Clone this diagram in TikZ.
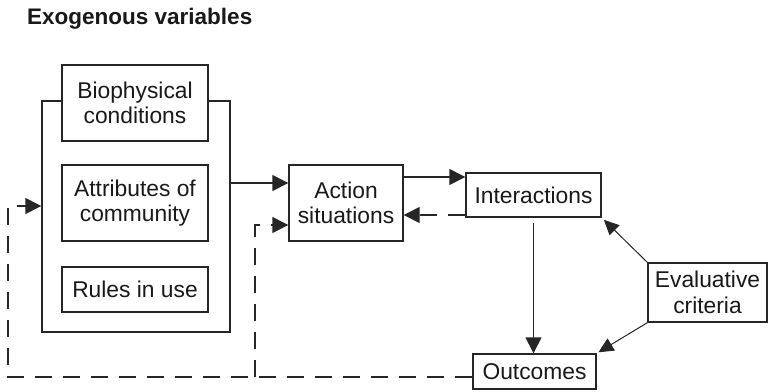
\documentclass[tikz,border=0pt]{standalone}
\usepackage{fontspec}
\setmainfont{Liberation Sans}
\usetikzlibrary{arrows.meta,calc}
\begin{document}
\begin{tikzpicture}[x=1pt,y=-1pt,
  box/.style={draw=black!85,line width=1.4pt,fill=white,inner sep=0pt,align=center,
    font=\fontsize{22.8}{25.5}\selectfont,text=black!90},
  conn/.style={draw=black!85,line width=1.4pt,-{Triangle[length=16pt,width=16pt]}},
  thin/.style={draw=black!85,line width=1pt,-{Triangle[length=15pt,width=14pt]}},
  dsh/.style={conn,dash pattern=on 17pt off 11pt}]
\useasboundingbox (0,0) rectangle (768,391);
\node[anchor=base west,inner sep=0pt,font=\bfseries\fontsize{22.5}{26}\selectfont,text=black!90] (title) at (27,24) {Exogenous variables};
\node[box,minimum width=188pt,minimum height=231pt] (outer) at (136,216.5) {};
\node[box,minimum width=146pt,minimum height=76pt] (bio) at (135,103) {Biophysical\\conditions};
\node[box,minimum width=146pt,minimum height=76pt] (attr) at (135,203) {Attributes of\\community};
\node[box,minimum width=146pt,minimum height=45pt] (rules) at (135,289.5) {Rules in use};
\node[box,minimum width=114pt,minimum height=76pt] (action) at (346,203) {Action\\situations};
\node[box,minimum width=135pt,minimum height=44pt] (inter) at (533.5,195) {Interactions};
\node[box,minimum width=123pt,minimum height=35pt] (outc) at (534.5,371.5) {Outcomes};
\node[box,minimum width=119pt,minimum height=59pt] (eval) at (707.5,292.5) {Evaluative\\criteria};
% solid connectors
\coordinate (a1) at ([yshift=20pt]action.west);
\draw[conn] (outer.east |- a1) -- (a1);
\coordinate (i1) at ([yshift=18pt]inter.west);
\draw[conn] (action.east |- i1) -- (i1);
\coordinate (i2) at ([yshift=-20pt]inter.west);
\draw[dsh] (i2) -- (action.east |- i2);
\draw[conn,shorten <=5pt] (inter.south) -- (inter.south |- outc.north);
\draw[thin,shorten >=3pt] (eval.north west) -- (inter.south east);
\draw[thin,shorten >=2pt] (eval.south west) -- (outc.north east);
% dashed feedback
\coordinate (o1) at ([yshift=-5.5pt]outc.west);
\coordinate (c1) at (8,0 |- o1);
\coordinate (e1) at ([yshift=10.5pt]outer.west);
\draw[dsh] (o1) -- (c1) -- (c1 |- e1) -- (e1);
\coordinate (j1) at (255,0 |- o1);
\coordinate (a2) at ([yshift=-22pt]action.west);
\draw[dsh] (j1) -- (j1 |- a2) -- (a2);
\end{tikzpicture}
\end{document}
